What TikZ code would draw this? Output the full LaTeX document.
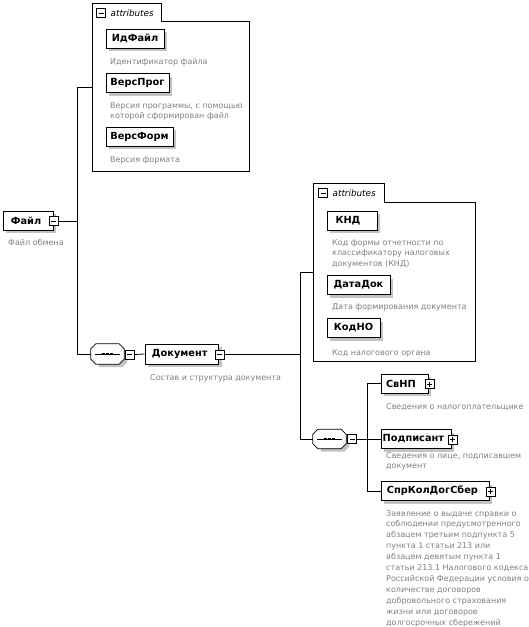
\documentclass[tikz,border=0pt]{standalone}
\usepackage{fontspec}
\setmainfont{DejaVu Sans}
\usetikzlibrary{shadows,calc}
\definecolor{descgray}{RGB}{128,128,128}
\definecolor{shadowgray}{RGB}{195,195,195}
\newcommand{\desclines}[1]{\begin{tabular}[t]{@{}l@{}}#1\end{tabular}}
\begin{document}
\begin{tikzpicture}[x=1pt,y=-1pt,
  line/.style={line width=0.8pt, draw=black},
  elem/.style={draw=black, fill=white, line width=0.8pt, inner sep=0pt, minimum height=19pt,
    font=\bfseries\fontsize{9.8}{10}\selectfont,
    drop shadow={shadow xshift=3pt, shadow yshift=-3pt, fill=shadowgray, opacity=1}},
  desc/.style={anchor=base west, inner sep=0pt, text=descgray, font=\fontsize{8}{10.9}\selectfont},
  pmbox/.style={draw=black, fill=white, line width=0.7pt, minimum size=9pt, inner sep=0pt},
  minusbox/.style={pmbox, path picture={\draw[line width=0.7pt] ([xshift=2pt]path picture bounding box.west) -- ([xshift=-2pt]path picture bounding box.east);}},
  plusbox/.style={pmbox, path picture={\draw[line width=0.7pt] ([xshift=2pt]path picture bounding box.west) -- ([xshift=-2pt]path picture bounding box.east) ([yshift=2pt]path picture bounding box.south) -- ([yshift=-2pt]path picture bounding box.north);}},
  hidden/.style={draw=none, inner sep=0pt},
  tabtext/.style={anchor=west, inner sep=0pt, font=\itshape\fontsize{8.8}{10}\selectfont}
]
\useasboundingbox (0,0) rectangle (529,627);

% ---------- attributes group 1 ----------
\node[hidden, fill=white, minimum width=157pt, minimum height=150pt, anchor=north west] (att1) at (92,21) {};
\node[hidden, minimum width=69pt, minimum height=18pt, anchor=north west] (tab1) at (92,3) {};
\draw[line] (att1.south west) |- (tab1.north east) |- (att1.north east) |- cycle;
\node[minusbox] (t1minus) at (101,13) {};
\node[tabtext] (t1text) at (110.5,13) {attributes};

\node[elem, minimum width=58pt] (idf) at (135,38.5) {ИдФайл};
\node[desc] (idfd) at (110,64) {Идентификатор файла};
\node[elem, minimum width=63pt] (vprog) at (137.5,83) {ВерсПрог};
\node[desc] (vprogd) at (110,108) {\desclines{Версия программы, с помощью\\которой сформирован файл}};
\node[elem, minimum width=67pt] (vform) at (139.5,136.5) {ВерсФорм};
\node[desc] (vformd) at (110,162) {Версия формата};

% ---------- root ----------
\node[elem, minimum width=50pt] (file) at (28,220.5) {Файл\hspace*{4pt}};
\node[minusbox] (fminus) at (53.5,221) {};
\node[desc] (filed) at (8,245) {Файл обмена};

\coordinate (j1top) at (77,87);
\coordinate (j1mid) at (77,221);
\coordinate (j1bot) at (77,354);
\draw[line] (fminus.east) -- (j1mid);
\draw[line] (att1.west |- j1top) -- (j1top) -- (j1bot);

% ---------- sequence 1 ----------
\node[hidden, minimum width=33pt, minimum height=20pt] (comp1) at (107.5,354) {};
\fill[shadowgray] ($(comp1.north west)+(8,3)$) -- ($(comp1.north east)+(-2,3)$) -- ($(comp1.north east)+(3,8)$) -- ($(comp1.south east)+(3,-2)$) -- ($(comp1.south east)+(-2,3)$) -- ($(comp1.south west)+(8,3)$) -- cycle;
\draw[line, fill=white] ($(comp1.north west)+(5,0)$) -- ($(comp1.north east)+(-5,0)$) -- ($(comp1.north east)+(0,5)$) -- ($(comp1.south east)+(0,-5)$) -- ($(comp1.south east)+(-5,0)$) -- ($(comp1.south west)+(5,0)$) -- ($(comp1.south west)+(0,-5)$) -- ($(comp1.north west)+(0,5)$) -- cycle;
\draw[line width=0.8pt] ($(comp1.west)+(4,0)$) -- ($(comp1.east)+(-4,0)$);
\foreach \dx in {-4,0,4} \fill ($(comp1.center)+(\dx-1.2,-1.2)$) rectangle ++(2.4,2.4);
\node[minusbox] (c1minus) at (129.5,354.5) {};
\draw[line] (j1bot) -- (comp1.west);

\node[elem, minimum width=73.5pt, minimum height=20pt] (doc) at (181.75,354) {Документ\hspace*{4pt}};
\node[minusbox] (dminus) at (219.5,354.5) {};
\node[desc] (docd) at (150,380) {Состав и структура документа};
\draw[line] (c1minus.east) -- (doc.west);

\coordinate (j2top) at (300,272);
\coordinate (j2mid) at (300,354.5);
\coordinate (j2bot) at (300,439);
\draw[line] (dminus.east) -- (j2mid);

% ---------- attributes group 2 ----------
\node[hidden, fill=white, minimum width=162pt, minimum height=159pt, anchor=north west] (att2) at (313,202) {};
\node[hidden, minimum width=71pt, minimum height=19pt, anchor=north west] (tab2) at (313,183) {};
\draw[line] (att2.south west) |- (tab2.north east) |- (att2.north east) |- cycle;
\node[minusbox] (t2minus) at (323,193) {};
\node[tabtext] (t2text) at (332.5,193.5) {attributes};

\node[elem, minimum width=50pt] (knd) at (352,220.5) {КНД\hspace*{8pt}};
\node[desc] (kndd) at (332,245) {\desclines{Код формы отчетности по\\классификатору налоговых\\документов (КНД)}};
\node[elem, minimum width=63pt] (datadok) at (358.5,285) {ДатаДок};
\node[desc] (datadokd) at (332,309) {Дата формирования документа};
\node[elem, minimum width=53pt] (kodno) at (353.5,328) {КодНО};
\node[desc] (kodnod) at (332,355) {Код налогового органа};

\draw[line] (att2.west |- j2top) -- (j2top) -- (j2bot);

% ---------- sequence 2 ----------
\node[hidden, minimum width=33pt, minimum height=19pt] (comp2) at (329.5,439) {};
\fill[shadowgray] ($(comp2.north west)+(8,3)$) -- ($(comp2.north east)+(-2,3)$) -- ($(comp2.north east)+(3,8)$) -- ($(comp2.south east)+(3,-2)$) -- ($(comp2.south east)+(-2,3)$) -- ($(comp2.south west)+(8,3)$) -- cycle;
\draw[line, fill=white] ($(comp2.north west)+(5,0)$) -- ($(comp2.north east)+(-5,0)$) -- ($(comp2.north east)+(0,5)$) -- ($(comp2.south east)+(0,-5)$) -- ($(comp2.south east)+(-5,0)$) -- ($(comp2.south west)+(5,0)$) -- ($(comp2.south west)+(0,-5)$) -- ($(comp2.north west)+(0,5)$) -- cycle;
\draw[line width=0.8pt] ($(comp2.west)+(4,0)$) -- ($(comp2.east)+(-4,0)$);
\foreach \dx in {-4,0,4} \fill ($(comp2.center)+(\dx-1.2,-1.2)$) rectangle ++(2.4,2.4);
\node[minusbox] (c2minus) at (352,439) {};
\draw[line] (j2bot) -- (comp2.west);

\coordinate (j3top) at (367,383.5);
\coordinate (j3mid) at (367,439);
\coordinate (j3bot) at (367,491);
\draw[line] (c2minus.east) -- (j3mid);
\draw[line] (j3top) -- (j3bot);

\node[elem, minimum width=47pt, anchor=west] (svnp) at (381,383.5) {СвНП\hspace*{8pt}};
\node[plusbox] (svnpplus) at ($(svnp.east)+(1,0.5)$) {};
\node[desc] (svnpd) at (386,409) {Сведения о налогоплательщике};

\node[elem, minimum width=70pt, anchor=west] (podp) at (381,439) {Подписант\hspace*{6pt}};
\node[plusbox] (podpplus) at ($(podp.east)+(1,0.5)$) {};
\node[desc] (podpd) at (386,458) {\desclines{Сведения о лице, подписавшем\\документ}};

\node[elem, minimum width=108pt, anchor=west] (spr) at (381,491) {СпрКолДогСбер\hspace*{6pt}};
\node[plusbox] (sprplus) at ($(spr.east)+(1,0.5)$) {};
\node[desc] (sprd) at (386,516) {\desclines{Заявление о выдаче справки о\\соблюдении предусмотренного\\абзацем третьим подпункта 5\\пункта 1 статьи 213 или\\абзацем девятым пункта 1\\статьи 213.1 Налогового кодекса\\Российской Федерации условия о\\количестве договоров\\добровольного страхования\\жизни или договоров\\долгосрочных сбережений}};

\draw[line] (j3top) -- (svnp.west);
\draw[line] (j3mid) -- (podp.west);
\draw[line] (j3bot) -- (spr.west);
\end{tikzpicture}
\end{document}
